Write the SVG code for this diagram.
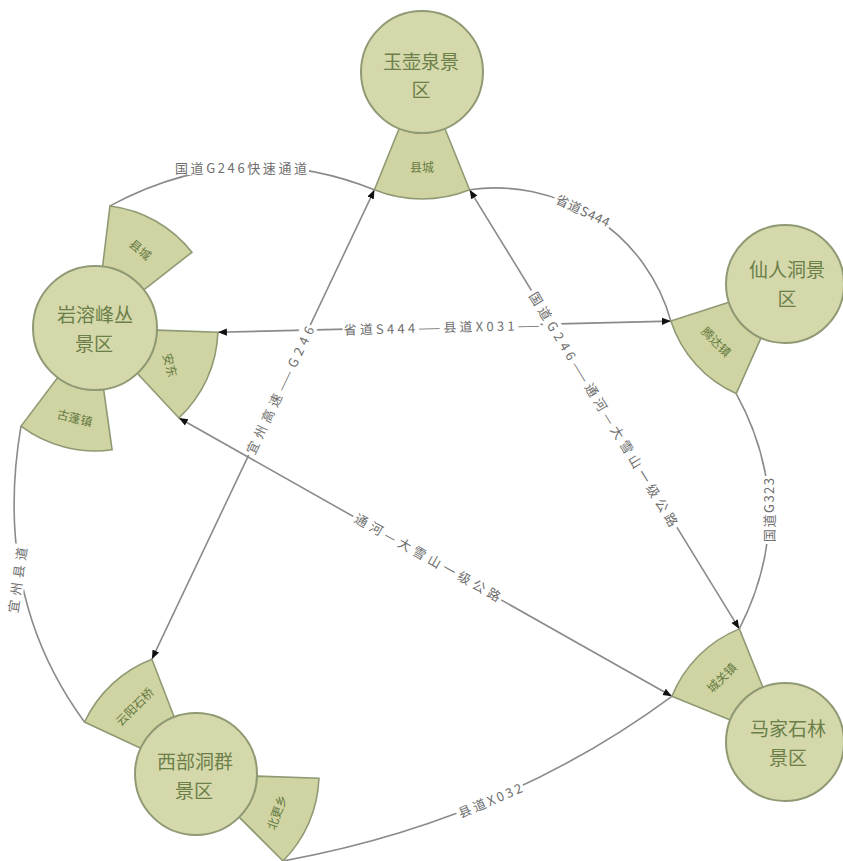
<svg xmlns="http://www.w3.org/2000/svg" width="843" height="861" viewBox="0 0 843 861">
<defs>
<marker id="arr" viewBox="0 0 10 10" refX="10" refY="5" markerWidth="9" markerHeight="9" markerUnits="userSpaceOnUse" orient="auto-start-reverse"><path d="M0,1 L10,5 L0,9 z" fill="#111"/></marker>
<style>
.ln{fill:none;stroke:#8a8a8a;stroke-width:1.6}
.ar{marker-start:url(#arr);marker-end:url(#arr)}
.lb{font-family:"Noto Sans CJK SC","Liberation Sans",sans-serif;font-size:13px;fill:#6e6e6e;text-anchor:middle;dominant-baseline:central}
.bg{fill:#fff}
.cir{fill:#d5d8ab;stroke:#8f9a74;stroke-width:2}
.sec{fill:#d0d4a2;stroke:#8f9a74;stroke-width:1.6}
.nt{font-family:"Noto Sans CJK SC","Liberation Serif",serif;font-size:19px;fill:#6b7f48;text-anchor:middle;dominant-baseline:central}
.st{font-family:"Noto Sans CJK SC","Liberation Serif",serif;font-size:12px;fill:#667a42;text-anchor:middle;dominant-baseline:central}
</style>
</defs>
<rect width="843" height="861" fill="#fff"/>
<g id="connectors">
<path class="ln" d="M110,205.9 Q240,136 374.4,189.8"/>
<path class="ln" d="M469.6,189.8 A182,182 0 0 1 670.9,321.1"/>
<path class="ln" d="M736.2,393.6 Q800,510 739.3,628.9"/>
<path class="ln" d="M671.9,696.3 Q502.5,821.3 283,861"/>
<path class="ln" d="M84.5,722 Q-8,596 21,426.2"/>
<line class="ln ar" x1="374.4" y1="189.8" x2="151.9" y2="659.2"/>
<line class="ln ar" x1="469.6" y1="189.8" x2="739.3" y2="628.9"/>
<line class="ln ar" x1="217.9" y1="332.3" x2="670.9" y2="321.1"/>
<line class="ln ar" x1="178.9" y1="418" x2="671.9" y2="696.3"/>
<g transform="translate(241,167)"><rect class="bg" x="-68" y="-8" width="136" height="16"/><text class="lb" textLength="132">国道G246快速通道</text></g>
<g transform="translate(583,210) rotate(25)"><rect class="bg" x="-31" y="-8" width="62" height="16"/><text class="lb" textLength="58">省道S444</text></g>
<g transform="translate(768,510) rotate(-90)"><rect class="bg" x="-34" y="-8" width="68" height="16"/><text class="lb" textLength="64">国道G323</text></g>
<g transform="translate(490,800) rotate(-23)"><rect class="bg" x="-36" y="-8" width="72" height="16"/><text class="lb" textLength="68">县道X032</text></g>
<g transform="translate(17,580) rotate(-82)"><rect class="bg" x="-36" y="-8" width="72" height="16"/><text class="lb" textLength="66">宜州县道</text></g>
<g transform="translate(441.5,326.8) rotate(-1.4)"><rect class="bg" x="-99" y="-8" width="198" height="16"/><text class="lb" textLength="196">省道S444——县道X031——</text></g>
<g transform="translate(279.5,390) rotate(-64.6)"><rect class="bg" x="-72" y="-8" width="144" height="16"/><text class="lb" textLength="140">宜州高速——G246</text></g>
<g transform="translate(604,409) rotate(58.6)"><rect class="bg" x="-139" y="-8" width="278" height="16"/><text class="lb" textLength="272">国道G246——通河—大雪山一级公路</text></g>
<g transform="translate(428,557) rotate(29.3)"><rect class="bg" x="-85" y="-8" width="170" height="16"/><text class="lb" textLength="165">通河—大雪山一级公路</text></g>
</g>
<g id="node-yuhuquan">
<path class="sec" d="M444.85,128.56 L469.57,189.75 A127,127 0 0 1 374.43,189.75 L399.15,128.56 A61,61 0 0 0 444.85,128.56 Z"/>
<circle class="cir" cx="422" cy="72" r="61"/>
<text class="nt" x="421" y="60">玉壶泉景</text>
<text class="nt" x="421" y="88">区</text>
<text class="st" x="422" y="166">县城</text>
</g>
<g id="node-yanrong">
<path class="sec" d="M102.56,266.46 L109.99,205.92 A123,123 0 0 1 191.92,252.27 L143.86,289.83 A62,62 0 0 0 102.56,266.46 Z"/>
<path class="sec" d="M156.96,330.16 L217.93,332.29 A123,123 0 0 1 178.89,417.96 L137.28,373.35 A62,62 0 0 0 156.96,330.16 Z"/>
<path class="sec" d="M103.63,389.4 L112.12,449.81 A123,123 0 0 1 20.98,426.23 L57.69,377.51 A62,62 0 0 0 103.63,389.4 Z"/>
<circle class="cir" cx="95" cy="328" r="62"/>
<text class="nt" x="95" y="313">岩溶峰丛</text>
<text class="nt" x="94" y="342">景区</text>
<text class="st" transform="translate(141,249) rotate(40)">县城</text>
<text class="st" transform="translate(171,365) rotate(75)">安东</text>
<text class="st" transform="translate(75,417) rotate(14)">古蓬镇</text>
</g>
<g id="node-xianrendong">
<path class="sec" d="M761,337.9 L736.2,393.6 A120,120 0 0 1 670.87,321.08 L728.89,302.23 A59,59 0 0 0 761,337.9 Z"/>
<circle class="cir" cx="785" cy="284" r="59"/>
<text class="nt" x="787" y="268">仙人洞景</text>
<text class="nt" x="787" y="297">区</text>
<text class="st" transform="translate(717,341) rotate(45)">腾达镇</text>
</g>
<g id="node-majia">
<path class="sec" d="M730.3,719.9 L671.88,696.3 A122,122 0 0 1 739.3,628.88 L762.9,687.3 A59,59 0 0 0 730.3,719.9 Z"/>
<circle class="cir" cx="785" cy="742" r="59"/>
<text class="nt" x="788" y="727">马家石林</text>
<text class="nt" x="788" y="756">景区</text>
<text class="st" transform="translate(721,677) rotate(-45)">城关镇</text>
</g>
<g id="node-xibu">
<path class="sec" d="M140.72,748.22 L84.53,722.02 A123,123 0 0 1 151.92,659.17 L174.14,717.05 A61,61 0 0 0 140.72,748.22 Z"/>
<path class="sec" d="M256.96,776.13 L318.93,778.29 A123,123 0 0 1 282.97,860.97 L239.13,817.13 A61,61 0 0 0 256.96,776.13 Z"/>
<circle class="cir" cx="196" cy="774" r="61"/>
<text class="nt" x="195" y="760">西部洞群</text>
<text class="nt" x="194" y="789">景区</text>
<text class="st" transform="translate(134,706) rotate(-45)">云阳石桥</text>
<text class="st" transform="translate(276,812) rotate(-70)">北更乡</text>
</g>
</svg>
